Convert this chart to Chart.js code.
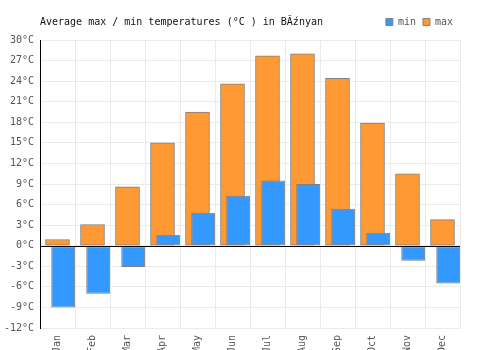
<!DOCTYPE html>
<html>
<head>
<meta charset="utf-8">
<script src="https://cdn.jsdelivr.net/npm/chart.js@4.4.1/dist/chart.umd.min.js"></script>
<style>
  body { margin: 0; background: #fff; }
</style>
</head>
<body>
<canvas id="tempChart" width="500" height="350"></canvas>
<script>
// data
const months = ["Jan", "Feb", "Mar", "Apr", "May", "Jun", "Jul", "Aug", "Sep", "Oct", "Nov", "Dec"];
const minTemps = [-9.0, -7.0, -3.1, 1.6, 4.8, 7.3, 9.5, 9.0, 5.4, 1.9, -2.2, -5.5];
const maxTemps = [0.9, 3.1, 8.6, 15.0, 19.5, 23.6, 27.7, 28.0, 24.4, 17.9, 10.5, 3.8];
const yMin = -12;
const yMax = 30;
const yStep = 3;
const titleText = "Average max / min temperatures (°C ) in BĂźnyan";

const FONT = '"DejaVu Sans Mono", monospace';
const GRID = "#ebebeb";

// title sits on the same row as the legend
const chartTitle = {
  id: "chartTitle",
  afterDraw(chart) {
    const hb = chart.legend.legendHitBoxes[0];
    const ctx = chart.ctx;
    ctx.save();
    ctx.font = "10px " + FONT;
    ctx.fillStyle = "#111";
    ctx.textBaseline = "middle";
    ctx.fillText(titleText, chart.chartArea.left, hb.top + hb.height / 2);
    ctx.restore();
  },
};

// black zero line drawn over the bars
const zeroLine = {
  id: "zeroLine",
  afterDatasetsDraw(chart) {
    const { ctx, chartArea, scales } = chart;
    const py = Math.round(scales.y.getPixelForValue(0)) + 0.5;
    ctx.save();
    ctx.strokeStyle = "#000";
    ctx.lineWidth = 1;
    ctx.beginPath();
    ctx.moveTo(chartArea.left, py);
    ctx.lineTo(chartArea.right, py);
    ctx.stroke();
    ctx.restore();
  },
};

const ctx = document.getElementById("tempChart").getContext("2d");
new Chart(ctx, {
  type: "bar",
  data: {
    labels: months,
    datasets: [
      // empty slot so the min bars sit right of centre
      {
        label: "",
        data: [],
        categoryPercentage: 0.65,
        barPercentage: 2.1,
      },
      {
        label: "min",
        data: minTemps,
        backgroundColor: "#3399ff",
        borderColor: "#808080",
        borderWidth: 1,
        borderSkipped: false,
        categoryPercentage: 0.65,
        barPercentage: 2.1,
      },
      {
        label: "max",
        data: maxTemps,
        backgroundColor: "#ff9933",
        borderColor: "#808080",
        borderWidth: 1,
        borderSkipped: false,
        grouped: false,
        barThickness: 24,
      },
    ],
  },
  options: {
    responsive: false,
    animation: false,
    layout: { padding: { top: 10, right: 40, left: 0, bottom: 0 } },
    plugins: {
      tooltip: { enabled: false },
      legend: {
        position: "top",
        align: "end",
        labels: {
          boxWidth: 7,
          boxHeight: 7,
          padding: 7,
          color: "#555",
          font: { family: FONT, size: 10 },
          filter: (item) => item.datasetIndex !== 0,
        },
      },
    },
    scales: {
      x: {
        grid: { color: GRID, drawTicks: false, offset: true },
        border: { color: GRID },
        ticks: {
          autoSkip: false,
          maxRotation: 90,
          minRotation: 90,
          padding: 7,
          color: "#555",
          font: { family: FONT, size: 10 },
        },
        afterFit: (s) => { s.height = 22; },
      },
      spacer: {
        type: "category",
        position: "top",
        grid: { display: false },
        ticks: { display: false },
        border: { display: false },
        afterFit: (s) => { s.height = 3; },
      },
      y: {
        min: yMin,
        max: yMax,
        grid: { drawTicks: false, color: GRID },
        border: { color: "#000", width: 1 },
        ticks: {
          stepSize: yStep,
          padding: 6,
          color: "#555",
          font: { family: FONT, size: 10 },
          callback: (v) => v + "°C",
        },
        afterFit: (s) => { s.width = 40; },
      },
    },
  },
  plugins: [chartTitle, zeroLine],
});
</script>
</body>
</html>
